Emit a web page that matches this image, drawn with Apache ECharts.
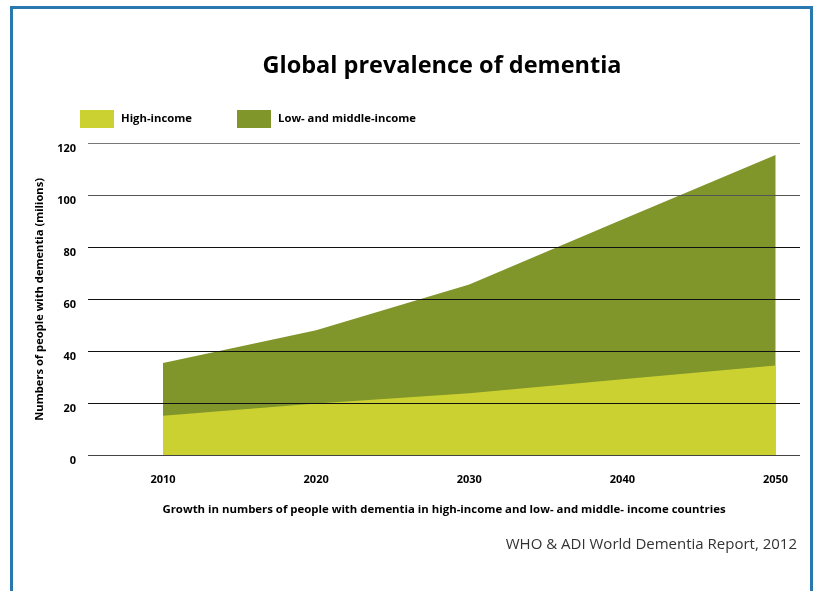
<!DOCTYPE html>
<html>
<head>
<meta charset="utf-8">
<style>
  html, body { margin: 0; padding: 0; background: #fff; }
  #chart { width: 819px; height: 591px; }
</style>
<script src="https://cdn.jsdelivr.net/npm/echarts@6/dist/echarts.min.js"></script>
</head>
<body>
<div id="chart"></div>
<script>
// Estimated dementia cases (millions) by projection year
const years = [2010, 2020, 2030, 2040, 2050];
const highIncome = [15.3, 20.0, 24.0, 29.3, 34.6];
const lowMiddleIncome = [20.3, 28.1, 41.7, 61.3, 80.8];
const yTicks = [0, 20, 40, 60, 80, 100, 120];

const FONT = '"Open Sans", "Noto Sans", sans-serif';
const HI_COLOR = '#ccd132';
const LMI_COLOR = '#80952a';

const chart = echarts.init(document.getElementById('chart'), null, { renderer: 'canvas' });

// The low/middle-income band sits on top of the high-income band,
// so its upper edge is the running total of both groups.
const totals = years.map((y, i) => [y, highIncome[i] + lowMiddleIncome[i]]);
const highPairs = years.map((y, i) => [y, highIncome[i]]);

chart.setOption({
  backgroundColor: '#ffffff',
  animation: false,
  title: {
    text: 'Global prevalence of dementia',
    left: 437,
    top: 49,
    textAlign: 'center',
    textStyle: { fontFamily: FONT, fontWeight: 'bold', fontSize: 23.5, color: '#000' }
  },
  legend: [
    {
      data: ['High-income'], left: 75, top: 105, icon: 'rect',
      itemWidth: 34, itemHeight: 18, selectedMode: false,
      textStyle: { fontFamily: FONT, fontWeight: 'bold', fontSize: 11.3, color: '#000', padding: [0, 0, 0, 2] }
    },
    {
      data: ['Low- and middle-income'], left: 232, top: 105, icon: 'rect',
      itemWidth: 34, itemHeight: 18, selectedMode: false,
      textStyle: { fontFamily: FONT, fontWeight: 'bold', fontSize: 11.3, color: '#000', padding: [0, 0, 0, 2] }
    }
  ],
  grid: { left: 88, right: 19, top: 143, bottom: 135.3, containLabel: false },
  xAxis: {
    type: 'value',
    min: 2005.1,
    max: 2051.6,
    name: 'Growth in numbers of people with dementia in high-income and low- and middle- income countries',
    nameLocation: 'middle',
    nameGap: 49,
    nameTextStyle: { fontFamily: FONT, fontWeight: 'bold', fontSize: 11.4, color: '#000' },
    axisLine: { show: false },
    axisTick: { show: false },
    splitLine: { show: false },
    axisLabel: {
      customValues: years,
      margin: 19,
      formatter: v => String(v),
      fontFamily: FONT, fontWeight: 'bold', fontSize: 11, color: '#000'
    }
  },
  yAxis: {
    type: 'value',
    min: 0,
    max: 120,
    interval: 20,
    z: 5,
    name: 'Numbers of people with dementia (milions)',
    nameLocation: 'middle',
    nameGap: 43,
    nameRotate: 90,
    nameTextStyle: { fontFamily: FONT, fontWeight: 'bold', fontSize: 11.2, color: '#000' },
    axisLine: { show: false },
    axisTick: { show: false },
    axisLabel: {
      customValues: yTicks,
      margin: 12,
      verticalAlign: 'top',
      fontFamily: FONT, fontWeight: 'bold', fontSize: 11, color: '#000'
    },
    splitLine: {
      lineStyle: { color: ['#444', '#111', '#111', '#111', '#111', '#555', '#777'], width: 1 }
    }
  },
  series: [
    {
      name: 'Low- and middle-income',
      type: 'line',
      z: 1,
      symbol: 'none',
      lineStyle: { width: 0 },
      itemStyle: { color: LMI_COLOR },
      areaStyle: { color: LMI_COLOR, opacity: 1 },
      data: totals
    },
    {
      name: 'High-income',
      type: 'line',
      z: 2,
      symbol: 'none',
      lineStyle: { width: 0 },
      itemStyle: { color: HI_COLOR },
      areaStyle: { color: HI_COLOR, opacity: 1 },
      data: highPairs
    }
  ],
  graphic: [
    {
      type: 'rect',
      shape: { x: 11.5, y: 7.5, width: 800, height: 620 },
      style: { fill: 'none', stroke: '#2a78b0', lineWidth: 3 },
      silent: true
    },
    {
      type: 'text',
      right: 22,
      top: 537,
      style: {
        text: 'WHO & ADI World Dementia Report, 2012',
        fontFamily: FONT, fontSize: 15, fill: '#333'
      }
    }
  ]
});
</script>
</body>
</html>
